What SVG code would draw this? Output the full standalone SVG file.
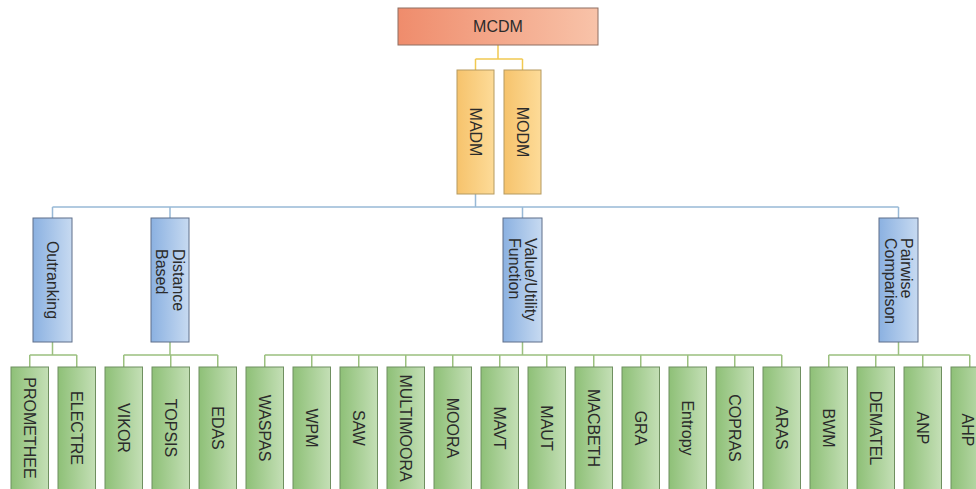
<svg xmlns="http://www.w3.org/2000/svg" width="976" height="489" viewBox="0 0 976 489">
<defs>
<linearGradient id="gRed" x1="0" y1="0" x2="1" y2="0"><stop offset="0" stop-color="#EF8C6C"/><stop offset="1" stop-color="#F8C3A9"/></linearGradient>
<linearGradient id="gYel" x1="0" y1="0" x2="1" y2="0"><stop offset="0" stop-color="#F6C36C"/><stop offset="1" stop-color="#FDDB98"/></linearGradient>
<linearGradient id="gBlu" x1="0" y1="0" x2="1" y2="0"><stop offset="0" stop-color="#8BB1E1"/><stop offset="1" stop-color="#C7DAF1"/></linearGradient>
<linearGradient id="gGrn" x1="0" y1="0" x2="1" y2="0"><stop offset="0" stop-color="#8EC077"/><stop offset="1" stop-color="#C4DFB6"/></linearGradient>
</defs>
<style>
text{font-family:"Liberation Sans",Arial,sans-serif;font-size:16px;fill:#2b2b2b}
.red{fill:url(#gRed);stroke:#8E6F62;stroke-width:1}
.yel{fill:url(#gYel);stroke:#B59A60;stroke-width:1}
.blu{fill:url(#gBlu);stroke:#5F6F8A;stroke-width:1}
.grn{fill:url(#gGrn);stroke:#6F8F60;stroke-width:1}
.c{text-anchor:middle}
.ly{fill:none;stroke:#F1C951;stroke-width:1.5}
.lb{fill:none;stroke:#98B9D6;stroke-width:1.5}
.lg{fill:none;stroke:#9BC07F;stroke-width:1.5}
</style>
<g id="connectors">
<path class="ly" d="M498,45V59M475.5,59H522.5M475.5,59V70M522.5,59V70"/>
<path class="lb" d="M475.5,194V207M52.5,207H898.5M52.5,207V218M170,207V218M522.5,207V218M898.5,207V218"/>
<path class="lg" d="M52.5,342V355M29.75,355H76.75M29.75,355V367M76.75,355V367"/>
<path class="lg" d="M170,342V355M123.75,355H217.75M123.75,355V367M170.75,355V367M217.75,355V367"/>
<path class="lg" d="M522.5,342V355M264.75,355H781.75M264.75,355V367M311.75,355V367M358.75,355V367M405.75,355V367M452.75,355V367M499.75,355V367M546.75,355V367M593.75,355V367M640.75,355V367M687.75,355V367M734.75,355V367M781.75,355V367"/>
<path class="lg" d="M898.5,342V355M828.75,355H969.75M828.75,355V367M875.75,355V367M922.75,355V367M969.75,355V367"/>
</g>
<g id="mcdm"><rect class="red" x="398" y="8" width="200" height="37"/><text class="c" x="498" y="32">MCDM</text></g>
<g id="madm"><rect class="yel" x="457" y="70" width="37" height="124"/><text class="c" transform="translate(475.5,132) rotate(90)" y="5.7">MADM</text></g>
<g id="modm"><rect class="yel" x="504" y="70" width="37" height="124"/><text class="c" transform="translate(522.5,132) rotate(90)" y="5.7">MODM</text></g>
<g id="outranking"><rect class="blu" x="33" y="218" width="39" height="124"/><text class="c" transform="translate(52.5,280) rotate(90)" y="5.7">Outranking</text></g>
<g id="distance"><rect class="blu" x="151" y="218" width="38" height="124"/><text transform="translate(170,280) rotate(90)"><tspan x="-31" y="-2.5">Distance</tspan><tspan x="-31" y="14">Based</tspan></text></g>
<g id="value"><rect class="blu" x="503" y="218" width="39" height="124"/><text transform="translate(522.5,280) rotate(90)"><tspan x="-42" y="-2.5">Value/Utility</tspan><tspan x="-42" y="14">Function</tspan></text></g>
<g id="pairwise"><rect class="blu" x="879" y="218" width="39" height="124"/><text transform="translate(898.5,280) rotate(90)"><tspan x="-42" y="-2.5">Pairwise</tspan><tspan x="-42" y="14">Comparison</tspan></text></g>
<g id="promethee"><rect class="grn" x="11" y="367" width="37.5" height="126"/><text class="c" transform="translate(29.75,428) rotate(90)" y="5.7">PROMETHEE</text></g>
<g id="electre"><rect class="grn" x="58" y="367" width="37.5" height="126"/><text class="c" transform="translate(76.75,428) rotate(90)" y="5.7">ELECTRE</text></g>
<g id="vikor"><rect class="grn" x="105" y="367" width="37.5" height="126"/><text class="c" transform="translate(123.75,428) rotate(90)" y="5.7">VIKOR</text></g>
<g id="topsis"><rect class="grn" x="152" y="367" width="37.5" height="126"/><text class="c" transform="translate(170.75,428) rotate(90)" y="5.7">TOPSIS</text></g>
<g id="edas"><rect class="grn" x="199" y="367" width="37.5" height="126"/><text class="c" transform="translate(217.75,428) rotate(90)" y="5.7">EDAS</text></g>
<g id="waspas"><rect class="grn" x="246" y="367" width="37.5" height="126"/><text class="c" transform="translate(264.75,428) rotate(90)" y="5.7">WASPAS</text></g>
<g id="wpm"><rect class="grn" x="293" y="367" width="37.5" height="126"/><text class="c" transform="translate(311.75,428) rotate(90)" y="5.7">WPM</text></g>
<g id="saw"><rect class="grn" x="340" y="367" width="37.5" height="126"/><text class="c" transform="translate(358.75,428) rotate(90)" y="5.7">SAW</text></g>
<g id="multimoora"><rect class="grn" x="387" y="367" width="37.5" height="126"/><text class="c" transform="translate(405.75,428) rotate(90)" y="5.7">MULTIMOORA</text></g>
<g id="moora"><rect class="grn" x="434" y="367" width="37.5" height="126"/><text class="c" transform="translate(452.75,428) rotate(90)" y="5.7">MOORA</text></g>
<g id="mavt"><rect class="grn" x="481" y="367" width="37.5" height="126"/><text class="c" transform="translate(499.75,428) rotate(90)" y="5.7">MAVT</text></g>
<g id="maut"><rect class="grn" x="528" y="367" width="37.5" height="126"/><text class="c" transform="translate(546.75,428) rotate(90)" y="5.7">MAUT</text></g>
<g id="macbeth"><rect class="grn" x="575" y="367" width="37.5" height="126"/><text class="c" transform="translate(593.75,428) rotate(90)" y="5.7">MACBETH</text></g>
<g id="gra"><rect class="grn" x="622" y="367" width="37.5" height="126"/><text class="c" transform="translate(640.75,428) rotate(90)" y="5.7">GRA</text></g>
<g id="entropy"><rect class="grn" x="669" y="367" width="37.5" height="126"/><text class="c" transform="translate(687.75,428) rotate(90)" y="5.7">Entropy</text></g>
<g id="copras"><rect class="grn" x="716" y="367" width="37.5" height="126"/><text class="c" transform="translate(734.75,428) rotate(90)" y="5.7">COPRAS</text></g>
<g id="aras"><rect class="grn" x="763" y="367" width="37.5" height="126"/><text class="c" transform="translate(781.75,428) rotate(90)" y="5.7">ARAS</text></g>
<g id="bwm"><rect class="grn" x="810" y="367" width="37.5" height="126"/><text class="c" transform="translate(828.75,428) rotate(90)" y="5.7">BWM</text></g>
<g id="dematel"><rect class="grn" x="857" y="367" width="37.5" height="126"/><text class="c" transform="translate(875.75,428) rotate(90)" y="5.7">DEMATEL</text></g>
<g id="anp"><rect class="grn" x="904" y="367" width="37.5" height="126"/><text class="c" transform="translate(922.75,428) rotate(90)" y="5.7">ANP</text></g>
<g id="ahp"><rect class="grn" x="951" y="367" width="37.5" height="126"/><text class="c" transform="translate(968,430) rotate(90)" y="5.7">AHP</text></g>
</svg>
